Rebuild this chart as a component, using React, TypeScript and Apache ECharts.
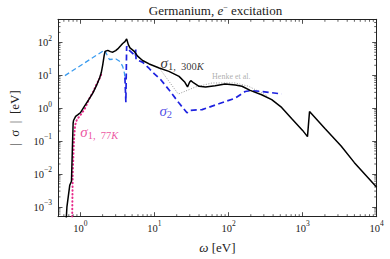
import React, { useEffect, useRef } from "react";
import * as echarts from "echarts";

// ---- data (omega [eV], |sigma| [eV]) ----
const sigma1_300K: [number, number][] = [
  [0.64, 3e-4], [0.66, 1e-3], [0.72, 4.5e-3], [0.76, 6e-3], [0.78, 0.05], [0.8, 0.35],
  [0.81, 0.42], [0.865, 0.56], [0.93, 0.63], [1.0, 0.72], [1.14, 1.15], [1.3, 1.8],
  [1.48, 2.9], [1.65, 4.8], [1.82, 8.2], [1.92, 12], [2.01, 21], [2.1, 40], [2.16, 53],
  [2.35, 57], [2.55, 52], [2.74, 50], [3.0, 56], [3.2, 63], [3.5, 78], [3.73, 92],
  [4.0, 105], [4.22, 127], [4.3, 110], [4.45, 85], [4.68, 68], [5.35, 53], [5.93, 38],
  [6.92, 28], [8.5, 22], [11.6, 16.6], [15.7, 13.1], [21.5, 9.2], [25.8, 6.1], [28, 4.4],
  [29.8, 6.1], [31, 6.8], [34, 5.8], [40, 4.6], [49, 4.4], [66, 4.8], [90, 5.4], [123, 5.0],
  [152, 4.6], [196, 3.45], [280, 2.55], [383, 1.8], [521, 1.05], [710, 0.48], [1000, 0.21],
  [1164, 0.136], [1240, 0.79], [2000, 0.24], [3310, 0.07], [5000, 0.022], [10000, 3.9e-3],
];
const sigma1_77K: [number, number][] = [
  [0.775, 3e-4], [0.79, 0.01], [0.82, 0.1], [0.85, 0.3], [0.9, 0.45], [1.0, 0.6],
  [1.15, 0.95], [1.33, 2.0], [1.5, 3.2], [1.64, 5.1], [1.8, 7.5], [1.95, 11.5],
];
const sigma2Low: [number, number][] = [
  [0.62, 9.7], [2.12, 58], [2.47, 30], [3.03, 31], [3.44, 26], [3.73, 18.6], [3.94, 11.6], [4.0, 8.5],
];
const sigma2: [number, number][] = [
  [4.0, 8.5], [4.12, 1.5], [4.18, 1.5], [4.22, 76], [4.4, 62], [5.0, 48], [5.55, 38],
  [5.6, 60], [5.65, 30], [6.9, 25], [8.5, 16], [10, 11], [12.2, 7.3], [15.7, 3.6],
  [21.5, 1.42], [27.5, 0.72], [30, 0.85], [44, 0.9], [74, 1.35], [123, 2.0], [168, 3.2],
  [200, 3.4], [281, 3.2], [521, 2.7],
];
const henke: [number, number][] = [
  [12, 15], [21, 2.67], [36, 4.4], [60, 5.8], [124, 5.8], [187, 4.6], [281, 2.9], [330, 2.4],
];

const X_MIN = 0.5;
const X_MAX = 1e4;
const Y_MIN = 5e-4;
const Y_MAX = 500;

const titleText = "Germanium, {i|e}{sup|−} excitation";
const xName = "{i|ω} [eV]";
const yName = "|  σ  |  [eV]";

// annotation anchors (data coordinates)
const label300K: [number, number] = [12.1, 22.4];
const labelSigma2: [number, number] = [11.7, 0.77];
const label77K: [number, number] = [1.0, 0.177];
const labelHenke: [number, number] = [60, 9.2];

const FONT = "Liberation Serif";

function minorTicks(lo: number, hi: number): number[] {
  const out: number[] = [];
  for (let d = Math.floor(Math.log10(lo)); d <= Math.ceil(Math.log10(hi)); d++) {
    for (let m = 2; m <= 9; m++) {
      const v = m * Math.pow(10, d);
      if (v > lo * 1.0001 && v < hi * 0.9999) out.push(Number(v.toPrecision(6)));
    }
  }
  return out;
}

function powLabel(v: number): string {
  const e = Math.log10(v);
  const r = Math.round(e);
  if (Math.abs(e - r) > 1e-6) return "";
  const exp = r < 0 ? "−" + -r : String(r);
  return `{b|10}{s|${exp}}`;
}

const AX = "#222";

export default function App() {
  const ref = useRef<HTMLDivElement>(null);
  useEffect(() => {
    document.body.style.margin = "0";
    if (!ref.current) return;
    const chart = echarts.init(ref.current, undefined, { renderer: "svg" });

    const axisCommon = (pos: string, showLabel: boolean, isY: boolean) => ({
      type: "log",
      logBase: 10,
      position: pos,
      min: isY ? Y_MIN : X_MIN,
      max: isY ? Y_MAX : X_MAX,
      axisLine: { show: true, onZero: false, lineStyle: { color: AX, width: 1 } },
      axisTick: { show: true, inside: true, length: 4.5, lineStyle: { color: AX, width: 0.8 } },
      splitLine: { show: false },
      minorTick: { show: false },
      axisLabel: {
        show: showLabel,
        formatter: powLabel,
        margin: isY ? 6 : 3,
        color: AX,
        fontFamily: FONT,
        rich: {
          b: { fontSize: 10.5, fontFamily: FONT, color: AX, verticalAlign: "bottom", padding: isY ? [3, 0, 2, 0] : [3, 0, 0, 0] },
          s: { fontSize: 7.5, fontFamily: FONT, color: AX, verticalAlign: "top" },
        },
      },
    });

    const xMinor = minorTicks(X_MIN, X_MAX).map((v) => [v, 1]);
    const yMinor = minorTicks(Y_MIN, Y_MAX).map((v) => [1, v]);

    const tickLine = (x1: number, y1: number, x2: number, y2: number) => ({
      type: "line",
      shape: { x1, y1, x2, y2 },
      style: { stroke: AX, lineWidth: 0.7 },
    });

    const annot = (pos: [number, number], text: string, color: string, rich: any) => ({
      type: "scatter",
      symbolSize: 0,
      silent: true,
      z: 10,
      data: [pos],
      label: {
        show: true,
        position: "right",
        distance: 0,
        formatter: () => text,
        color,
        fontFamily: FONT,
        rich,
      },
    });

    const sigmaRich = (color: string) => ({
      s: { fontSize: 15, fontStyle: "italic", fontFamily: FONT, color, verticalAlign: "bottom", padding: [0, 0, 2, 0] },
      sub: { fontSize: 10.5, fontFamily: FONT, color, verticalAlign: "bottom" },
      subi: { fontSize: 10.5, fontStyle: "italic", fontFamily: FONT, color, verticalAlign: "bottom" },
    });

    chart.setOption({
      animation: false,
      backgroundColor: "#fff",
      grid: { left: 54, right: 13.3, top: 19.3, bottom: 42.3, containLabel: false },
      xAxis: [
        {
          ...axisCommon("bottom", true, false),
          name: xName,
          nameLocation: "middle",
          nameGap: 24,
          nameTextStyle: {
            fontSize: 13,
            fontFamily: FONT,
            color: AX,
            rich: { i: { fontSize: 13, fontStyle: "italic", fontFamily: FONT, color: AX } },
          },
        },
        { ...axisCommon("top", false, false) },
      ],
      yAxis: [
        {
          ...axisCommon("left", true, true),
          name: yName,
          nameLocation: "middle",
          nameGap: 37,
          nameTextStyle: { fontSize: 13, fontFamily: FONT, color: AX },
        },
        { ...axisCommon("right", false, true) },
      ],
      graphic: [
        {
          type: "text",
          x: 215.5,
          y: 10,
          style: {
            text: titleText,
            align: "center",
            verticalAlign: "middle",
            fontSize: 13,
            fontFamily: FONT,
            fill: AX,
            rich: {
              i: { fontSize: 13, fontStyle: "italic", fontFamily: FONT, fill: AX, verticalAlign: "bottom" },
              sup: { fontSize: 8, fontFamily: FONT, fill: AX, verticalAlign: "top" },
            },
          },
        },
      ],
      series: [
        {
          type: "custom",
          silent: true,
          z: 5,
          data: xMinor,
          renderItem: (params: any, api: any) => {
            const cs = params.coordSys;
            const px = api.coord([api.value(0), 1])[0];
            const b = cs.y + cs.height;
            return {
              type: "group",
              children: [tickLine(px, b, px, b - 2.5), tickLine(px, cs.y, px, cs.y + 2.5)],
            };
          },
        },
        {
          type: "custom",
          silent: true,
          z: 5,
          data: yMinor,
          renderItem: (params: any, api: any) => {
            const cs = params.coordSys;
            const py = api.coord([1, api.value(1)])[1];
            const r = cs.x + cs.width;
            return {
              type: "group",
              children: [tickLine(cs.x, py, cs.x + 2.5, py), tickLine(r, py, r - 2.5, py)],
            };
          },
        },
        {
          type: "line",
          name: "henke",
          data: henke,
          showSymbol: false,
          lineStyle: { color: "#999", width: 1, type: [1, 1.6] },
          z: 2,
        },
        {
          type: "line",
          name: "sigma2low",
          data: sigma2Low,
          showSymbol: false,
          lineStyle: { color: "#3b9cf0", width: 1.3, type: [5, 3] },
          z: 2,
        },
        {
          type: "line",
          name: "sigma2",
          data: sigma2,
          showSymbol: false,
          lineStyle: { color: "#1e22e0", width: 1.7, type: [6, 3.5] },
          z: 3,
        },
        {
          type: "line",
          name: "sigma1_77K",
          data: sigma1_77K,
          showSymbol: false,
          lineStyle: { color: "#e7298a", width: 2, type: [0.5, 3.2], cap: "round" },
          z: 3,
        },
        {
          type: "line",
          name: "sigma1_300K",
          data: sigma1_300K,
          showSymbol: false,
          lineStyle: { color: "#000", width: 1.5 },
          z: 4,
        },
        annot(label300K, "{s|σ}{sub|1,  300}{subi|K}", "#000", sigmaRich("#000")),
        annot(labelSigma2, "{s|σ}{sub|2}", "#1e22e0", sigmaRich("#1e22e0")),
        annot(label77K, "{s|σ}{sub|1,  77}{subi|K}", "#e7298a", sigmaRich("#e7298a")),
        {
          ...annot(labelHenke, "Henke et al.", "#999", {}),
          label: {
            show: true,
            position: "right",
            distance: 0,
            formatter: () => "Henke et al.",
            color: "#999",
            fontSize: 8,
            fontFamily: FONT,
          },
        },
      ],
    });
    return () => chart.dispose();
  }, []);
  return <div ref={ref} style={{ width: 390, height: 259 }} />;
}
